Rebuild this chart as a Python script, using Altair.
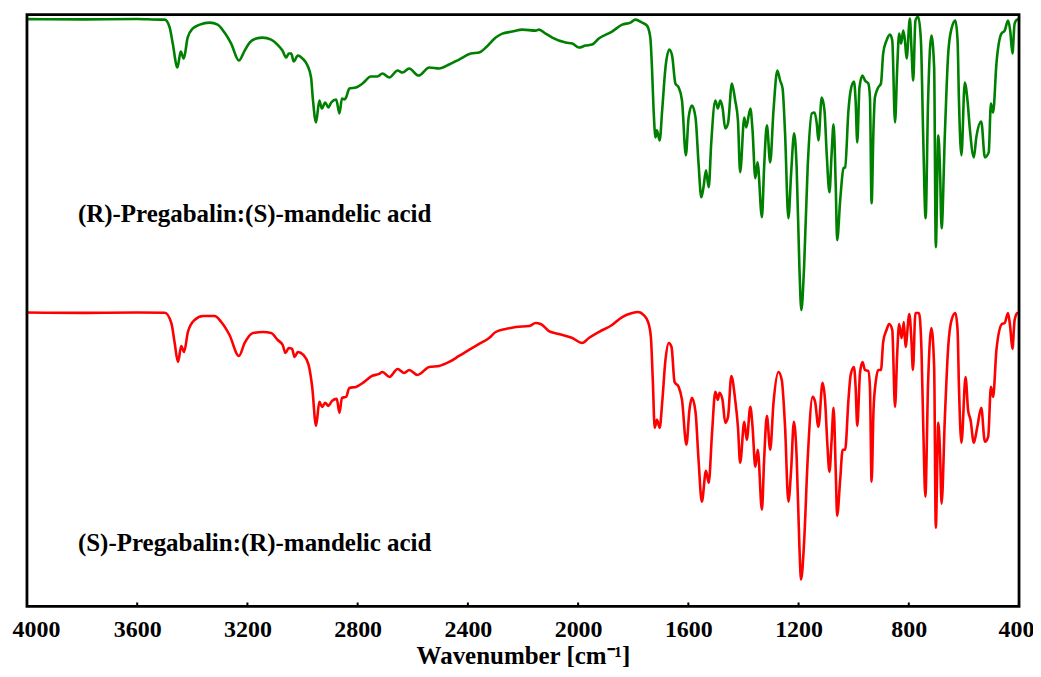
import altair as alt
import pandas as pd

# ---- data (wavenumber in cm^-1, signal in arbitrary units) ----
green_wn = [4000, 3800, 3600, 3518, 3500, 3482, 3471, 3454, 3442, 3431, 3417, 3399, 3373, 3337, 3308,
            3283, 3259, 3231, 3210, 3192, 3168, 3145, 3114, 3091, 3073, 3059, 3050, 3041, 3032, 3017,
            3000, 2982, 2969, 2963, 2951, 2939, 2930, 2918, 2906, 2896, 2878, 2866, 2857, 2848, 2842,
            2830, 2806, 2782, 2752, 2728, 2710, 2685, 2655, 2637, 2613, 2579, 2540, 2504, 2468, 2432,
            2389, 2359, 2335, 2299, 2275, 2239, 2202, 2154, 2142, 2118, 2094, 2045, 2021, 1997, 1973,
            1949, 1925, 1877, 1840, 1810, 1792, 1768, 1750, 1738, 1732, 1726, 1719, 1714, 1704, 1695,
            1683, 1669, 1659, 1647, 1635, 1623, 1609, 1599, 1587, 1574, 1563, 1553, 1545, 1536, 1526,
            1517, 1502, 1493, 1484, 1476, 1466, 1456, 1442, 1430, 1420, 1412, 1397, 1390, 1375, 1367,
            1357, 1349, 1333, 1325, 1315, 1303, 1291, 1277, 1267, 1258, 1249, 1237, 1227, 1216, 1207,
            1197, 1190, 1180, 1167, 1152, 1142, 1134, 1128, 1116, 1106, 1098, 1088, 1080, 1073, 1065,
            1060, 1049, 1037, 1031, 1019, 1011, 999, 993, 987, 979, 968, 959, 947, 941, 935,
            928, 923, 911, 901, 893, 881, 868, 860, 850, 842, 835, 828, 820, 814, 808,
            796, 790, 784, 776, 766, 756, 748, 739, 730, 718, 708, 702, 693, 687, 681,
            669, 657, 645, 631, 623, 618, 609, 597, 587, 579, 564, 555, 537, 524, 510,
            502, 494, 482, 464, 452, 440, 432, 424, 416, 406, 400]
green_val = [588.5, 588.2, 588.6, 588, 588, 580, 564, 540, 556, 549, 570, 579, 583, 585, 583,
             575, 564, 547, 557, 565, 569, 570, 568, 563, 557, 550, 554, 554, 546, 552,
             549, 542, 530, 510, 485, 507, 499, 505, 500, 505, 508, 494, 509, 508, 510,
             519, 520, 524, 531, 531, 534, 530, 537, 535, 539, 532, 540, 539, 543, 548,
             554, 555, 560, 570, 574, 576, 578, 577, 578, 574, 570, 565, 564, 560, 562,
             563, 569, 576, 583, 585, 588, 585, 582, 570, 540, 497, 470, 477, 467, 497,
             540, 558, 552, 524, 520, 507, 452, 490, 502, 490, 444, 410, 420, 437, 420,
             464, 507, 499, 507, 500, 479, 484, 524, 507, 487, 435, 490, 480, 499, 477,
             429, 445, 390, 440, 482, 445, 497, 537, 527, 519, 474, 389, 434, 474, 440,
             340, 297, 340, 440, 494, 495, 484, 467, 510, 497, 454, 415, 454, 483, 420,
             367, 407, 439, 440, 497, 517, 526, 507, 465, 520, 532, 527, 524, 510, 404,
             480, 510, 520, 524, 554, 567, 573, 567, 485, 540, 574, 564, 577, 567, 549,
             589, 557, 527, 587, 591, 567, 474, 389, 507, 572, 540, 360, 472, 440, 379,
             474, 554, 579, 587, 567, 507, 452, 525, 507, 480, 450, 470, 486, 450, 455,
             504, 495, 544, 574, 577, 587, 577, 554, 584, 588, 588]

red_wn = [4000, 3800, 3600, 3500, 3476, 3464, 3452, 3440, 3430, 3416, 3392, 3361, 3319, 3295, 3265,
          3231, 3210, 3180, 3144, 3114, 3090, 3072, 3062, 3050, 3038, 3029, 3017, 2997, 2978, 2965,
          2951, 2939, 2929, 2918, 2906, 2893, 2876, 2866, 2857, 2842, 2830, 2806, 2776, 2748, 2722,
          2710, 2685, 2655, 2631, 2613, 2583, 2540, 2504, 2468, 2432, 2396, 2359, 2323, 2299, 2263,
          2226, 2178, 2154, 2136, 2106, 2070, 2021, 1985, 1961, 1925, 1877, 1840, 1804, 1782, 1762,
          1746, 1736, 1729, 1722, 1714, 1704, 1695, 1683, 1671, 1661, 1650, 1635, 1623, 1607, 1596,
          1587, 1574, 1563, 1551, 1536, 1526, 1514, 1502, 1493, 1487, 1476, 1466, 1456, 1444, 1430,
          1420, 1412, 1397, 1388, 1375, 1367, 1357, 1348, 1333, 1325, 1315, 1303, 1291, 1273, 1261,
          1249, 1237, 1227, 1217, 1207, 1197, 1191, 1180, 1167, 1149, 1140, 1128, 1113, 1104, 1095,
          1088, 1080, 1073, 1065, 1060, 1049, 1040, 1031, 1019, 1011, 999, 993, 987, 977, 968,
          959, 947, 941, 935, 928, 920, 911, 901, 893, 881, 871, 860, 850, 842, 835,
          826, 818, 812, 798, 790, 785, 776, 763, 754, 747, 740, 730, 718, 708, 702,
          693, 687, 681, 669, 657, 645, 631, 623, 618, 609, 594, 585, 576, 564, 552,
          537, 524, 512, 502, 494, 482, 462, 452, 440, 432, 424, 416, 406, 400]
red_val = [294.5, 294.2, 294.6, 294.3, 284, 264, 245, 261, 255, 275, 287, 291, 291, 285, 272,
           251, 264, 274, 275, 274, 267, 262, 254, 259, 258, 250, 255, 252, 242, 220,
           181, 205, 200, 204, 201, 206, 208, 194, 209, 210, 219, 220, 225, 231, 233,
           235, 230, 238, 234, 237, 232, 240, 241, 245, 251, 257, 263, 269, 275, 278,
           280, 281, 284, 283, 276, 273, 269, 264, 269, 275, 282, 290, 294, 295, 292,
           285, 270, 227, 179, 187, 179, 204, 247, 264, 260, 225, 220, 207, 162, 197,
           209, 195, 147, 105, 136, 124, 174, 215, 207, 214, 207, 184, 190, 231, 207,
           180, 144, 185, 167, 200, 180, 140, 157, 97, 147, 191, 157, 204, 235, 227,
           180, 105, 137, 185, 150, 60, 27, 64, 147, 210, 205, 180, 224, 207, 160,
           135, 167, 199, 134, 91, 127, 157, 157, 207, 232, 240, 220, 181, 234, 245,
           237, 236, 220, 125, 197, 225, 237, 237, 265, 277, 283, 277, 200, 254, 283,
           269, 285, 260, 293, 264, 237, 294, 294, 257, 174, 110, 224, 279, 240, 79,
           184, 157, 103, 190, 260, 287, 294, 277, 220, 164, 230, 197, 187, 164, 179,
           199, 165, 170, 220, 210, 257, 283, 284, 294, 280, 258, 287, 294, 294]

series_names = ["(R)-Pregabalin:(S)-mandelic acid", "(S)-Pregabalin:(R)-mandelic acid"]
series_colors = ["#008000", "#ff0000"]
label_wn = [3815, 3815]
label_val = [393, 64]
tick_values = [4000, 3600, 3200, 2800, 2400, 2000, 1600, 1200, 800, 400]

rows = []
for i, (w, v) in enumerate(zip(green_wn, green_val)):
    rows.append({"series": series_names[0], "wn": w, "val": v, "idx": i})
for i, (w, v) in enumerate(zip(red_wn, red_val)):
    rows.append({"series": series_names[1], "wn": w, "val": v, "idx": i})
df = pd.DataFrame(rows)
labels_df = pd.DataFrame({"series": series_names, "wn": label_wn, "val": label_val})
ticks_df = pd.DataFrame({"wn": tick_values})

FONT = "Liberation Serif"

xscale = alt.Scale(domain=[400, 4000], reverse=True, nice=False, zero=False)
yscale = alt.Scale(domain=[0, 593], nice=False, zero=False)
color = alt.Color("series:N", scale=alt.Scale(domain=series_names, range=series_colors), legend=None)

lines = alt.Chart(df).mark_line(strokeWidth=2.6, interpolate="monotone", strokeJoin="round").encode(
    x=alt.X("wn:Q", scale=xscale,
            axis=alt.Axis(title="Wavenumber [cm⁻¹]", values=tick_values, format="d",
                          ticks=False, domain=False, grid=False,
                          labelFont=FONT, labelFontSize=24, labelFontWeight="bold", labelColor="black",
                          labelPadding=11, labelFlush=True, labelFlushOffset=15, labelOverlap=False,
                          titleFont=FONT, titleFontSize=25, titleFontWeight="bold", titleColor="black",
                          titleBaseline="alphabetic", titleY=57)),
    y=alt.Y("val:Q", scale=yscale, axis=None),
    color=color,
    order=alt.Order("idx:Q"),
)

texts = alt.Chart(labels_df).mark_text(
    align="left", baseline="middle", font=FONT, fontSize=25, fontWeight="bold", color="black"
).encode(
    x=alt.X("wn:Q", scale=xscale),
    y=alt.Y("val:Q", scale=yscale),
    text="series:N",
)

ticks = alt.Chart(ticks_df).mark_rule(color="black", strokeWidth=2).encode(
    x=alt.X("wn:Q", scale=xscale),
    y=alt.value(593),
    y2=alt.value(589),
)

frame = alt.Chart(pd.DataFrame({"k": [0]})).mark_rect(
    fill=None, filled=False, stroke="black", strokeWidth=2.8
).encode(
    x=alt.value(0), x2=alt.value(994), y=alt.value(0), y2=alt.value(593),
)

chart = alt.layer(lines, ticks, texts, frame).properties(
    width=994, height=593,
    background="white",
    autosize=alt.AutoSizeParams(type="none"),
    padding={"left": 19, "top": 6, "right": 14, "bottom": 61},
).configure_view(stroke=None)

chart.save("out.html", embed_options={"renderer": "svg", "actions": False})
